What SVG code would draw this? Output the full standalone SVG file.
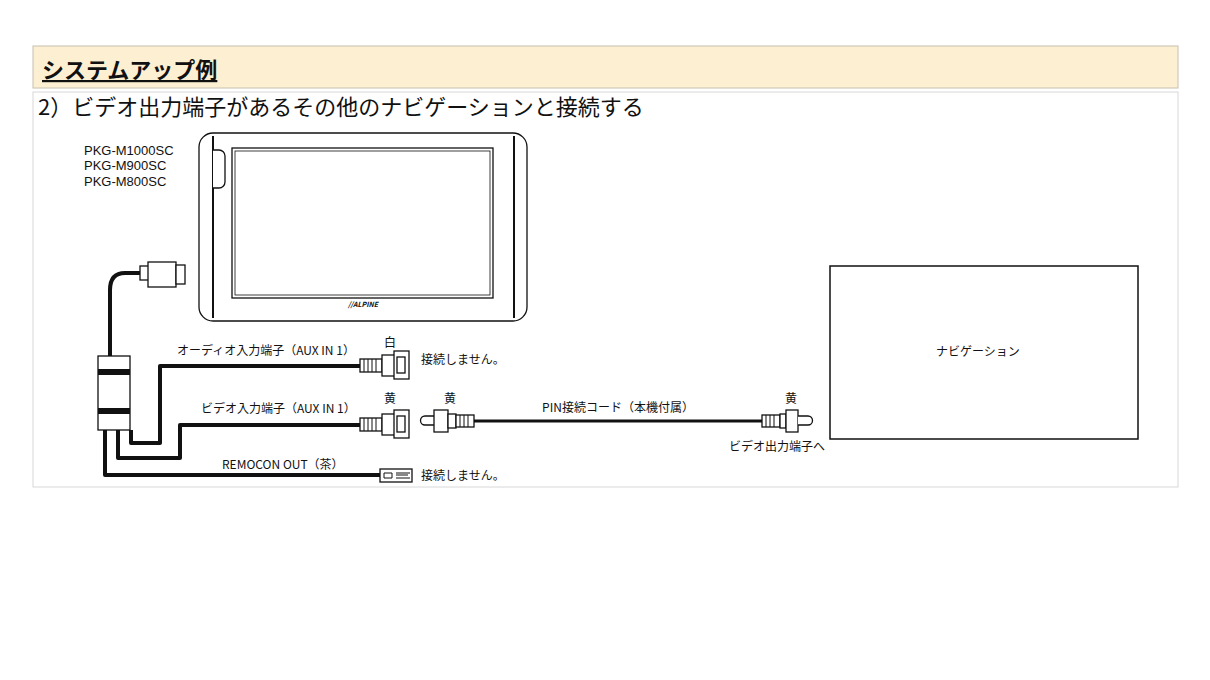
<svg xmlns="http://www.w3.org/2000/svg" width="1210" height="680" viewBox="0 0 1210 680">
<style>
text{font-family:"Noto Sans CJK JP","Liberation Sans",sans-serif;fill:#111}
.s{font-size:12px}
.w{fill:none;stroke:#111;stroke-width:4;stroke-linejoin:round}
.o{fill:#fff;stroke:#111;stroke-width:1.3}
</style>
<rect width="1210" height="680" fill="#fff"/>
<rect x="33" y="46" width="1145" height="42" fill="#fdf0d2" stroke="#c8c0b0"/>
<text x="42" y="78" font-size="22" font-weight="bold" text-decoration="underline">システムアップ例</text>
<rect x="33" y="92" width="1145" height="395" fill="#fff" stroke="#d8d8d8"/>
<text x="38" y="115" font-size="22">2）ビデオ出力端子があるその他のナビゲーションと接続する</text>
<g id="labels-model">
<text x="84" y="155" font-size="13" style="font-family:'Liberation Sans',sans-serif">PKG-M1000SC</text>
<text x="84" y="170" font-size="13" style="font-family:'Liberation Sans',sans-serif">PKG-M900SC</text>
<text x="84" y="186" font-size="13" style="font-family:'Liberation Sans',sans-serif">PKG-M800SC</text>
</g>
<g id="monitor">
<rect x="199" y="133" width="328" height="188" rx="14" class="o"/>
<line x1="213" y1="136" x2="213" y2="318" stroke="#111" stroke-width="2"/>
<line x1="514" y1="136" x2="514" y2="318" stroke="#111" stroke-width="2"/>
<path d="M213 150 h6 a6 6 0 0 1 6 6 v26 a6 6 0 0 1 -6 6 h-6" class="o"/>
<rect x="232" y="148" width="261" height="150" class="o"/>
<rect x="235" y="151" width="255" height="144" fill="none" stroke="#111" stroke-width="0.8"/>
<text x="363" y="307" font-size="7" font-weight="bold" font-style="italic" text-anchor="middle">//ALPINE</text>
</g>
<g id="connectors">
<path class="w" d="M142 273 H125 Q110 273 110 290 V356"/>
<path class="w" d="M105 430 V475 H380"/>
<path class="w" d="M118 430 V458 H180 V425 H362"/>
<path class="w" d="M131 430 V443 H160 V366 H362"/>
<line x1="472" y1="421" x2="762" y2="421" stroke="#111" stroke-width="3"/>
</g>
<g id="main-plug">
<rect x="140" y="266" width="10" height="14" class="o"/>
<rect x="148" y="262" width="28" height="25" class="o"/>
<rect x="176" y="265" width="9" height="19" class="o"/>
</g>
<g id="junction">
<rect x="98" y="356" width="32" height="74" class="o"/>
<rect x="98" y="369" width="32" height="6" fill="#111"/>
<rect x="98" y="408" width="32" height="6" fill="#111"/>
</g>
<g id="audio-conn">
<rect x="360" y="359" width="22" height="13" class="o"/>
<path d="M364 359 v13 M368 359 v13 M372 359 v13 M376 359 v13" stroke="#111"/>
<rect x="382" y="355" width="14" height="21" class="o"/>
<rect x="394" y="351" width="15" height="28" class="o"/>
<rect x="397" y="357" width="8" height="16" class="o"/>
</g>
<g id="video-conn">
<rect x="360" y="418" width="22" height="13" class="o"/>
<path d="M364 418 v13 M368 418 v13 M372 418 v13 M376 418 v13" stroke="#111"/>
<rect x="382" y="414" width="14" height="21" class="o"/>
<rect x="394" y="410" width="15" height="28" class="o"/>
<rect x="397" y="416" width="8" height="16" class="o"/>
</g>
<g id="pin-plug-left">
<path d="M434 416 h-9 a4 4 0 0 0 0 9 h9" class="o"/>
<rect x="434" y="410" width="14" height="22" class="o"/>
<rect x="448" y="414" width="8" height="14" class="o"/>
<rect x="456" y="415" width="18" height="12" class="o"/>
<path d="M460 415 v12 M464 415 v12 M468 415 v12" stroke="#111"/>
</g>
<g id="pin-plug-right">
<rect x="762" y="415" width="18" height="12" class="o"/>
<path d="M766 415 v12 M770 415 v12 M774 415 v12" stroke="#111"/>
<rect x="780" y="414" width="6" height="14" class="o"/>
<rect x="786" y="410" width="12" height="22" class="o"/>
<path d="M798 416 h10 a4 4 0 0 1 0 9 h-10" class="o"/>
</g>
<g id="remocon-conn">
<rect x="380" y="469" width="32" height="13" class="o"/>
<path d="M384 473 h8 v5 h-8 z M396 475 h12 M396 473 h14 M396 478 h14" fill="none" stroke="#111"/>
</g>
<g id="navigation">
<rect x="830" y="266" width="308" height="173" fill="#fff" stroke="#111" stroke-width="1.5"/>
<text x="978" y="356" class="s" text-anchor="middle">ナビゲーション</text>
</g>
<g id="texts">
<text x="177" y="355" class="s">オーディオ入力端子（AUX IN 1）</text>
<text x="390" y="347" class="s" text-anchor="middle">白</text>
<text x="421" y="364" class="s">接続しません。</text>
<text x="390" y="403" class="s" text-anchor="middle">黄</text>
<text x="450" y="403" class="s" text-anchor="middle">黄</text>
<text x="201" y="413" class="s">ビデオ入力端子（AUX IN 1）</text>
<text x="618" y="412" class="s" text-anchor="middle">PIN接続コード（本機付属）</text>
<text x="791" y="403" class="s" text-anchor="middle">黄</text>
<text x="777" y="451" class="s" text-anchor="middle">ビデオ出力端子へ</text>
<text x="222" y="469" class="s">REMOCON OUT（茶）</text>
<text x="421" y="480" class="s">接続しません。</text>
</g>
</svg>
